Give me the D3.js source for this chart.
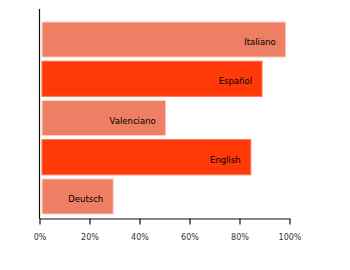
<!DOCTYPE html>
<html><head><meta charset="utf-8">
<script src="https://cdn.jsdelivr.net/npm/d3@7"></script>
<style>body{margin:0;background:#fff}svg{display:block}</style>
</head><body>
<svg id="c" width="350" height="270"></svg>
<script>
const languages = ["Italiano","Español","Valenciano","English","Deutsch"];
const values = [98.5, 89, 50.5, 84.5, 29.5];
const tickValues = [0, 20, 40, 60, 80, 100];
const fills = ["#ee7f64","#ff3a08","#ee7f64","#ff3a08","#ee7f64"];
const strokes = ["#fbd6cc","#ff6a48","#fbd6cc","#ff6a48","#fbd6cc"];

const svg = d3.select("#c");
const x = d3.scaleLinear().domain([0,100]).range([39.5,289.5]);
const y = d3.scaleBand().domain(languages).range([21.5,214.5]).paddingInner(0.08).paddingOuter(0);

svg.selectAll("rect.bar").data(languages).join("rect")
  .attr("class","bar")
  .attr("x", x(0)+2.5)
  .attr("y", d=>y(d)+0.5)
  .attr("width", (d,i)=>x(values[i])-x(0)-2.5)
  .attr("height", y.bandwidth()-1)
  .attr("fill",(d,i)=>fills[i])
  .attr("stroke",(d,i)=>strokes[i])
  .attr("stroke-width",1);

svg.selectAll("text.lab").data(languages).join("text")
  .attr("class","lab")
  .attr("x",(d,i)=>x(values[i])-10)
  .attr("y", d=>y(d)+y.bandwidth()/2+5.5)
  .attr("text-anchor","end")
  .attr("font-family","DejaVu Sans")
  .attr("font-size","8.5px")
  .attr("fill","#000")
  .text(d=>d);

const xAxis = d3.axisBottom(x).tickValues(tickValues).tickFormat(d=>d+"%").tickSize(6).tickSizeOuter(0);
const gx = svg.append("g").attr("transform","translate(0,218.5)").call(xAxis);
gx.select(".domain").attr("stroke","#111").attr("stroke-width",1.2);
gx.selectAll(".tick line").attr("stroke","#111").attr("stroke-width",1.2);
gx.selectAll(".tick text").attr("font-family","DejaVu Sans").attr("font-size","8px").attr("fill","#333").attr("dy","1.25em").attr("y",11);

svg.append("line").attr("x1",x(0)).attr("x2",x(0)).attr("y1",9).attr("y2",219)
  .attr("stroke","#111").attr("stroke-width",1.2);
</script>
</body></html>
